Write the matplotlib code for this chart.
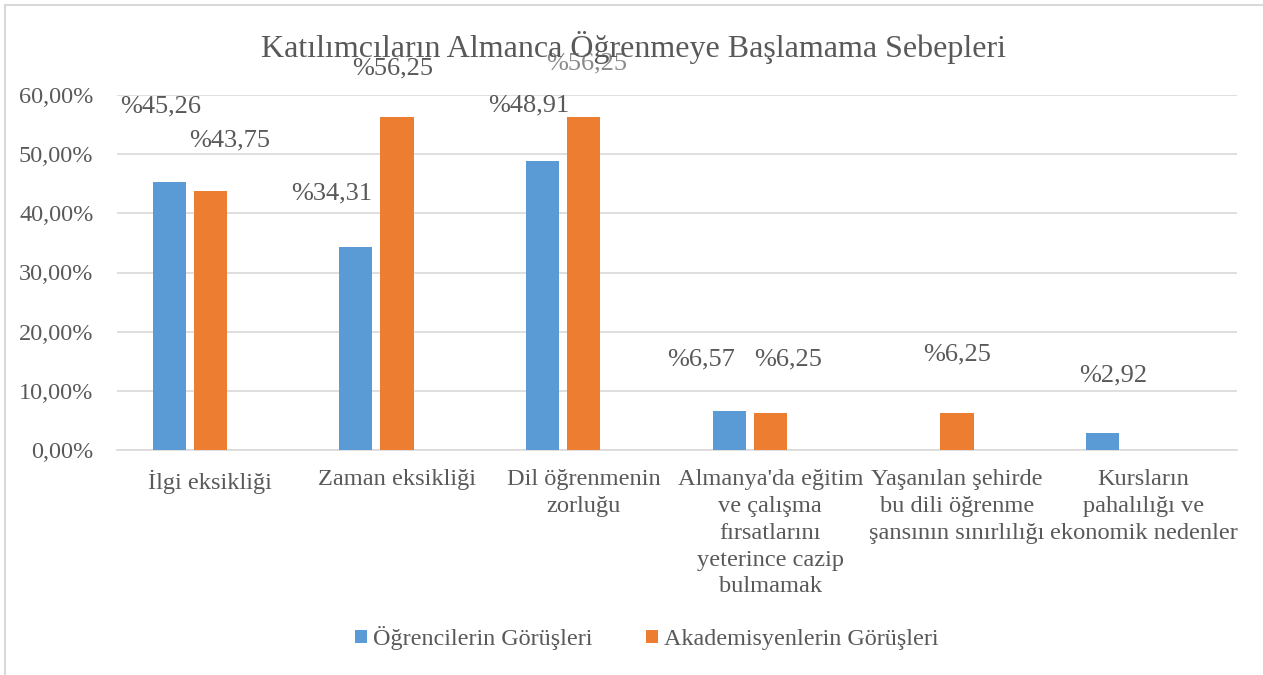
import numpy as np
import matplotlib.pyplot as plt
from matplotlib.ticker import FuncFormatter
from matplotlib.lines import Line2D

plt.rcParams['font.family'] = ['Liberation Serif', 'DejaVu Serif']

categories = ["İlgi eksikliği", "Zaman eksikliği", "Dil öğrenmenin\nzorluğu",
              "Almanya'da eğitim\nve çalışma\nfırsatlarını\nyeterince cazip\nbulmamak",
              "Yaşanılan şehirde\nbu dili öğrenme\nşansının sınırlılığı",
              "Kursların\npahalılığı ve\nekonomik nedenler"]
ogrenci = [45.26, 34.31, 48.91, 6.57, 0, 2.92]
akademisyen = [43.75, 56.25, 56.25, 6.25, 6.25, 0]
series_names = ["Öğrencilerin Görüşleri", "Akademisyenlerin Görüşleri"]

# manual label offsets (pixels) like in the original Excel chart
off_ogr = [(-9, 76), (-24, 54), (-14, 55), (-28, 52), None, (11, 57)]
off_aka = [(19, 51), (-4, 49), (3, 54), (18, 54), (0, 59), None]
# the label hidden behind the title looks faded in the original
fade_aka = [1, 1, 0.7, 1, 1, 1]
fade_ogr = [1] * 6

blue = '#5B9BD5'
orange = '#ED7D31'
grey = '#595959'

W, H = 1263, 675
fig = plt.figure(figsize=(W / 100, H / 100), dpi=100)
ax = fig.add_axes([117 / W, 1 - 450 / H, (1237 - 117) / W, (450 - 95) / H])

x = np.arange(len(categories))
w = 0.177
b1 = ax.bar(x - 0.22, np.array(ogrenci) / 100, w, color=blue, label=series_names[0], zorder=3)
b2 = ax.bar(x, np.array(akademisyen) / 100, w, color=orange, label=series_names[1], zorder=3)

ax.set_xlim(-0.5, 5.5)
ax.set_ylim(0, 0.6)
ax.set_yticks(np.arange(0, 0.61, 0.1))
ax.yaxis.set_major_formatter(FuncFormatter(lambda v, p: f"{v*100:.2f}%".replace('.', ',')))
ax.grid(axis='y', color='#d9d9d9', linewidth=1.2, zorder=0)
ax.set_xticks(x)
ax.set_xticklabels(categories, fontsize=17.6, color=grey, linespacing=1.36)
ax.tick_params(axis='both', length=0, colors=grey)
ax.tick_params(axis='y', labelsize=17.5, pad=17)
ax.tick_params(axis='x', pad=14)
for s in ['left', 'right', 'top']:
    ax.spines[s].set_visible(False)
ax.spines['bottom'].set_color('#d9d9d9')
ax.spines['bottom'].set_linewidth(1.2)

for bars, vals, offs, fades in [(b1, ogrenci, off_ogr, fade_ogr), (b2, akademisyen, off_aka, fade_aka)]:
    for bar, v, o, a in zip(bars, vals, offs, fades):
        if o is None:
            continue
        ax.annotate(f"%{v:.2f}".replace('.', ','),
                    (bar.get_x() + bar.get_width() / 2, bar.get_height()),
                    xytext=(o[0] * 0.72, o[1] * 0.72), textcoords='offset points',
                    ha='center', va='center', fontsize=19, color=grey, alpha=a, zorder=4)

fig.text(633.5 / W, 1 - 47 / H, "Katılımcıların Almanca Öğrenmeye Başlamama Sebepleri",
         ha='center', va='center', fontsize=23, color=grey)

fig.legend(loc='center', bbox_to_anchor=(647 / W, 1 - 638 / H), ncol=2, frameon=False,
           fontsize=17.4, handlelength=0.5, handleheight=0.5, handletextpad=0.25,
           columnspacing=2.2, labelcolor=grey)

# chart area border (top and left visible)
fig.add_artist(Line2D([5 / W, 5 / W], [0, 1 - 5 / H], transform=fig.transFigure,
                      color='#d9d9d9', linewidth=1.5))
fig.add_artist(Line2D([5 / W, 1], [1 - 5 / H, 1 - 5 / H], transform=fig.transFigure,
                      color='#d9d9d9', linewidth=1.5))

fig.savefig('out.png', dpi=100)
